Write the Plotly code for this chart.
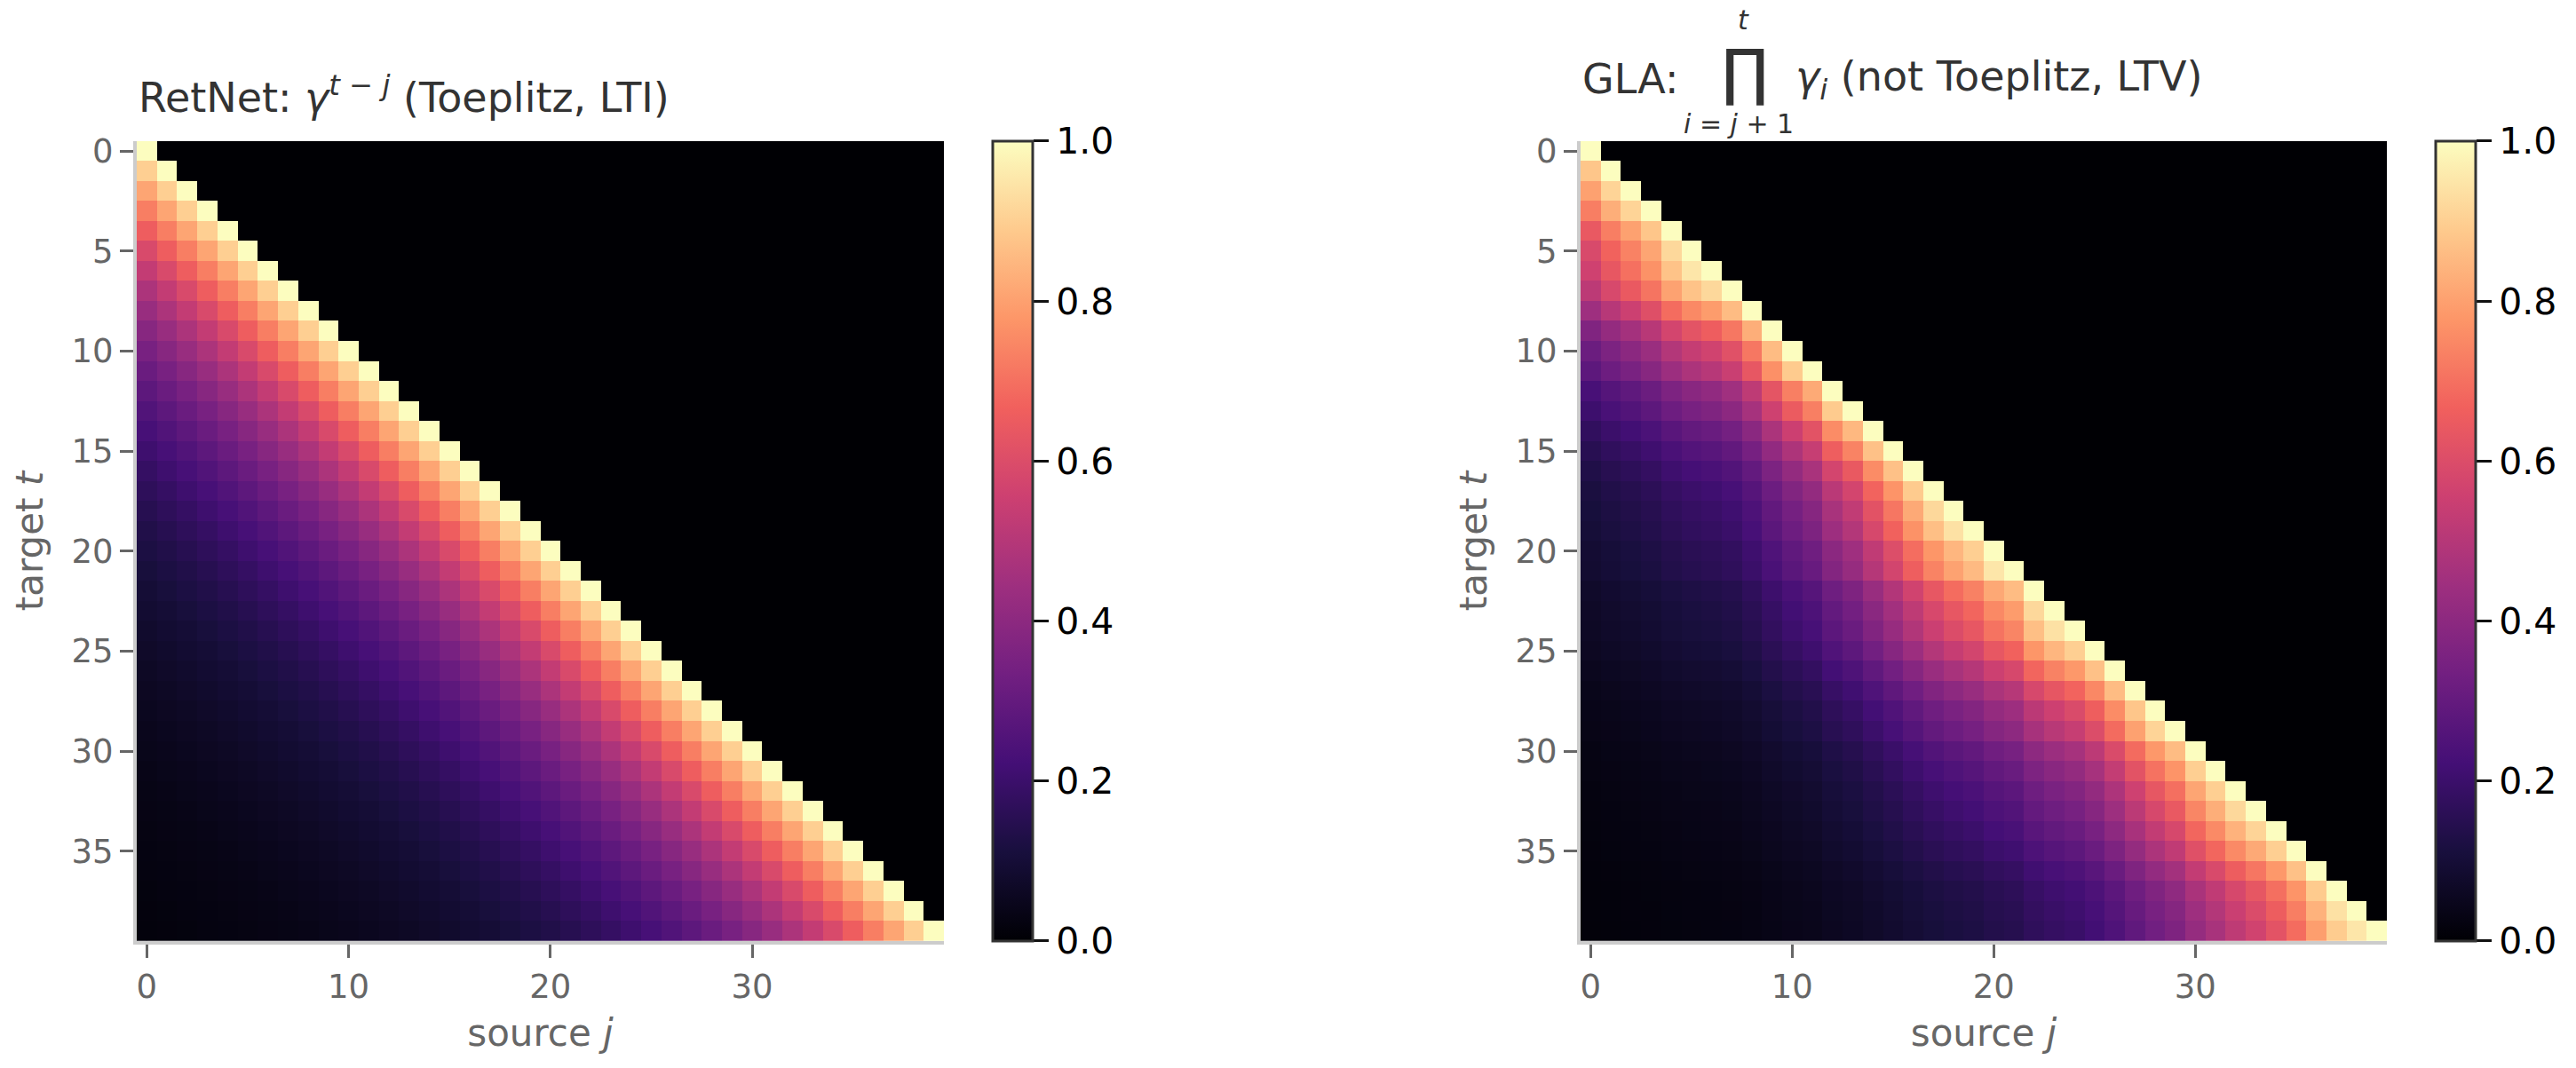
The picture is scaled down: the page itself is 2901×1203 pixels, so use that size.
import plotly.graph_objects as go

W, H = 2901, 1203
N = 40

# ---- data ----
positions = list(range(N))  # token indices (source j / target t)

# RetNet decay by lag (t - j)
retnet_decay_by_lag = [1.0, 0.9, 0.81, 0.729, 0.656, 0.590, 0.531, 0.478, 0.430, 0.387,
                       0.349, 0.314, 0.282, 0.254, 0.229, 0.206, 0.185, 0.167, 0.150, 0.135,
                       0.122, 0.109, 0.098, 0.089, 0.080, 0.072, 0.065, 0.058, 0.052, 0.047,
                       0.042, 0.038, 0.034, 0.031, 0.028, 0.025, 0.023, 0.020, 0.018, 0.016]

gla_gamma_steps = [0.88, 0.91, 0.91, 0.88, 0.92, 0.95, 0.92, 0.86, 0.83, 0.86,
                   0.89, 0.82, 0.89, 0.85, 0.87, 0.87, 0.89, 0.92, 0.94, 0.90,
                   0.95, 0.86, 0.92, 0.94, 0.90, 0.87, 0.86, 0.88, 0.91, 0.86,
                   0.90, 0.90, 0.92, 0.91, 0.90, 0.87, 0.89, 0.94, 0.95]

x_tickvals = [0, 10, 20, 30]
y_tickvals = [0, 5, 10, 15, 20, 25, 30, 35]
cbar_tickvals = [0.0, 0.2, 0.4, 0.6, 0.8, 1.0]

# ---- build the matrices (table for the library) ----
z_retnet = [[retnet_decay_by_lag[t - j] if j <= t else 0.0 for j in positions] for t in positions]
z_gla = []
for t in positions:
    row = []
    for j in positions:
        if j > t:
            row.append(0.0)
        else:
            v = 1.0
            for i in range(j + 1, t + 1):
                v *= gla_gamma_steps[i - 1]
            row.append(v)
    z_gla.append(row)


def px(x):
    return x / W


def py(y):
    return 1 - y / H


FONT = "DejaVu Sans"
GRAY = "#666666"

fig = go.Figure()

panels = [
    dict(z=z_retnet, xd=(154, 1063), cbx=1118, xa="x", ya="y"),
    dict(z=z_gla, xd=(1780, 2688), cbx=2743, xa="x2", ya="y2"),
]
top, bottom = 150, 1059

for p in panels:
    fig.add_trace(go.Heatmap(
        z=p["z"], x=positions, y=positions,
        colorscale="Magma", zmin=0, zmax=1,
        xaxis=p["xa"], yaxis=p["ya"],
        colorbar=dict(
            x=px(p["cbx"]), xanchor="left", xref="paper",
            y=py((top + bottom) / 2), yanchor="middle",
            len=(bottom - top) / H, lenmode="fraction",
            thickness=45, thicknessmode="pixels",
            outlinecolor="#333333", outlinewidth=3,
            tickvals=cbar_tickvals, ticktext=[f"{v:.1f}" for v in cbar_tickvals],
            ticks="outside", ticklen=17, tickwidth=3, tickcolor="#111111",
            tickfont=dict(family=FONT, size=41, color="#000000"),
            ypad=0, xpad=0,
        ),
    ))

axis_common = dict(
    showgrid=True, gridcolor="rgba(200,200,200,0.42)", gridwidth=2,
    zeroline=False, showline=True, linecolor="#cccccc", linewidth=4,
    ticks="outside", ticklen=15, tickwidth=3, tickcolor=GRAY,
    tickfont=dict(family=FONT, size=37, color=GRAY),
    layer="above traces",
)

layout = dict(
    width=W, height=H, autosize=False,
    margin=dict(l=0, r=0, t=0, b=0, pad=0),
    paper_bgcolor="white", plot_bgcolor="white",
    font=dict(family=FONT),
    showlegend=False,
)

for k, p in enumerate(panels):
    sx = "" if k == 0 else "2"
    layout["xaxis" + sx] = dict(
        axis_common, domain=[px(p["xd"][0]), px(p["xd"][1])],
        range=[-0.5, N - 0.5], tickvals=x_tickvals, anchor="y" + sx,
        title=dict(text="source <i>j</i>", font=dict(family=FONT, size=42, color=GRAY), standoff=18),
    )
    layout["yaxis" + sx] = dict(
        axis_common, domain=[py(bottom), py(top)],
        range=[N - 0.5, -0.5], tickvals=y_tickvals, anchor="x" + sx,
        title=dict(text="target <i>t</i>", font=dict(family=FONT, size=42, color=GRAY), standoff=20),
    )

fig.update_layout(**layout)

TITLE = "#333333"
ann = [
    dict(x=px(154), y=py(98), xanchor="left", yanchor="middle",
         text="RetNet: <i>γ</i><sup><i>t</i> − <i>j</i></sup> (Toeplitz, LTI)",
         font=dict(family=FONT, size=46, color=TITLE)),
    dict(x=px(1780), y=py(80), xanchor="left", yanchor="middle",
         text="GLA:", font=dict(family=FONT, size=46, color=TITLE)),
    dict(x=px(1965), y=py(72), xanchor="center", yanchor="middle",
         text="∏", font=dict(family=FONT, size=70, color=TITLE)),
    dict(x=px(1963), y=py(13), xanchor="center", yanchor="middle",
         text="<i>t</i>", font=dict(family=FONT, size=30, color=TITLE)),
    dict(x=px(1958), y=py(131), xanchor="center", yanchor="middle",
         text="<i>i</i> = <i>j</i> + 1", font=dict(family=FONT, size=30, color=TITLE)),
    dict(x=px(2020), y=py(80), xanchor="left", yanchor="middle",
         text="<i>γ</i><sub><i>i</i></sub> (not Toeplitz, LTV)",
         font=dict(family=FONT, size=46, color=TITLE)),
]
for a in ann:
    a.update(xref="paper", yref="paper", showarrow=False)
fig.update_layout(annotations=ann)

fig.write_html("out.html")
